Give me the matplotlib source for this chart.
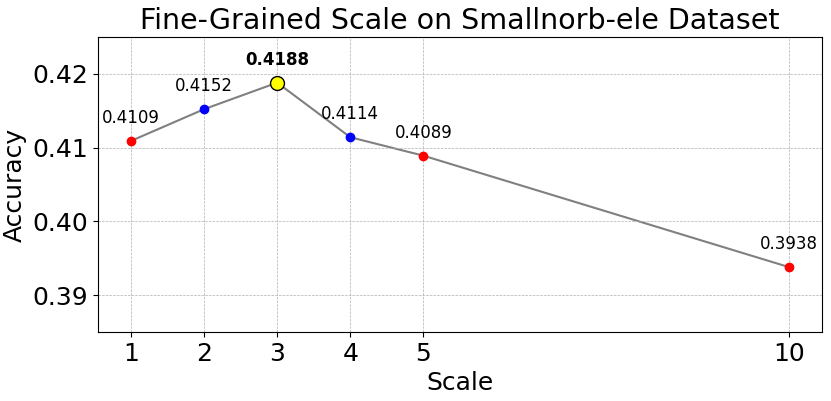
import matplotlib
matplotlib.use("Agg")
import matplotlib.pyplot as plt

scales = [1, 2, 3, 4, 5, 10]
accuracy = [0.4109, 0.4152, 0.4188, 0.4114, 0.4089, 0.3938]
colors = ['red', 'blue', 'yellow', 'blue', 'red', 'red']
best = 2

fig, ax = plt.subplots(figsize=(8.31, 4.01), dpi=100)
ax.plot(scales, accuracy, color='gray', linewidth=1.5, zorder=1)
for i in range(len(scales)):
    if i == best:
        ax.plot(scales[i], accuracy[i], 'o', color=colors[i], markersize=10,
                markeredgecolor='black', zorder=3)
        ax.annotate(f'{accuracy[i]:.4f}', (scales[i], accuracy[i]), textcoords='offset points',
                    xytext=(0, 10), ha='center', va='bottom', fontsize=12, fontweight='bold')
    else:
        ax.plot(scales[i], accuracy[i], 'o', color=colors[i], markersize=6, zorder=2)
        ax.annotate(f'{accuracy[i]:.4f}', (scales[i], accuracy[i]), textcoords='offset points',
                    xytext=(0, 10), ha='center', va='bottom', fontsize=12)

ax.set_xticks(scales)
ax.set_yticks([0.39, 0.40, 0.41, 0.42])
ax.set_ylim(0.385, 0.425)
ax.tick_params(labelsize=18)
ax.set_xlabel('Scale', fontsize=18)
ax.set_ylabel('Accuracy', fontsize=18)
ax.set_title('Fine-Grained Scale on Smallnorb-ele Dataset', fontsize=20.5)
ax.grid(True, linestyle='--', linewidth=0.5)
plt.subplots_adjust(left=0.118, right=0.989, top=0.908, bottom=0.172)
plt.savefig('out.png')
